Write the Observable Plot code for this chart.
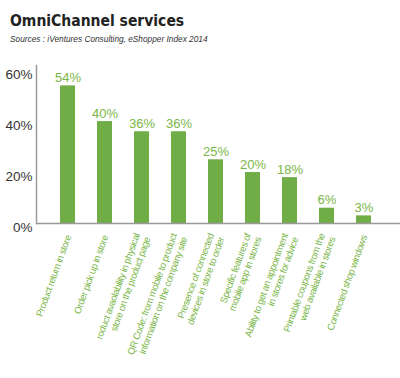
<!DOCTYPE html>
<html><head><meta charset="utf-8">
<script src="https://cdn.jsdelivr.net/npm/d3@7"></script>
<script src="https://cdn.jsdelivr.net/npm/@observablehq/plot@0.6"></script>
<style>
body{margin:0;background:#fff;width:400px;height:378px;overflow:hidden;font-family:"Liberation Sans",sans-serif}
#t{position:absolute;left:10px;top:11px;font:bold 15.5px "DejaVu Sans Condensed","DejaVu Sans",sans-serif;color:#222;line-height:20px}
#s{position:absolute;left:10px;top:34px;font:italic 8.3px "Liberation Sans",sans-serif;color:#333;line-height:11px}
#c{position:absolute;left:0;top:60px}
#c g[aria-label="x-axis tick label"] text{letter-spacing:-0.4px}
</style></head><body>
<div id="t">OmniChannel services</div>
<div id="s">Sources : iVentures Consulting, eShopper Index 2014</div>
<div id="c"></div>
<script>
const services = [
  "Product return in store",
  "Order pick up in store",
  "roduct avaolability in physical\nstore on the product page",
  "QR Code: from mobile to product\ninformation on the company site",
  "Presence of connected\ndevices in store to order",
  "Specific features of\nmobile app in stores",
  "Ability to get an appointment\nin stores for advice",
  "Printable coupons from the\nweb available in stores",
  "Connected shop windows"
];
const shares = [54, 40, 36, 36, 25, 20, 18, 6, 3];
const yTicks = [0, 20, 40, 60];
const data = services.map((s, i) => ({service: s, share: shares[i]}));

const green = "#70ad47";
const chart = Plot.plot({
  width: 400,
  height: 318,
  marginLeft: 36,
  marginRight: 0,
  marginTop: 5,
  marginBottom: 155,
  style: {fontFamily: "'Liberation Sans', sans-serif", background: "transparent"},
  x: {domain: services, padding: 0.6, paddingOuter: 0.667, align: 0.46, label: null},
  y: {domain: [0, 62], label: null},
  marks: [
    Plot.barY(data, {x: "service", y: "share", fill: green}),
    Plot.text(data, {x: "service", y: "share", text: d => d.share + "%", dy: -8, fill: "#7ab648", fontSize: 13}),
    Plot.frame({anchor: "left", stroke: "#9a9a9a", strokeWidth: 1.5}),
    Plot.ruleY([0], {stroke: "#9a9a9a", strokeWidth: 1.5}),
    Plot.axisY({ticks: yTicks, tickFormat: d => d + "%", tickSize: 0, tickPadding: 4, dy: 4, fontSize: 13.5, fill: "#333", label: null}),
    Plot.axisX({tickSize: 0, tickPadding: 12, tickRotate: -70, fontSize: 9.6, lineHeight: 1.15, fill: "#7ab648", label: null})
  ]
});
document.getElementById("c").appendChild(chart);
</script>
</body></html>
